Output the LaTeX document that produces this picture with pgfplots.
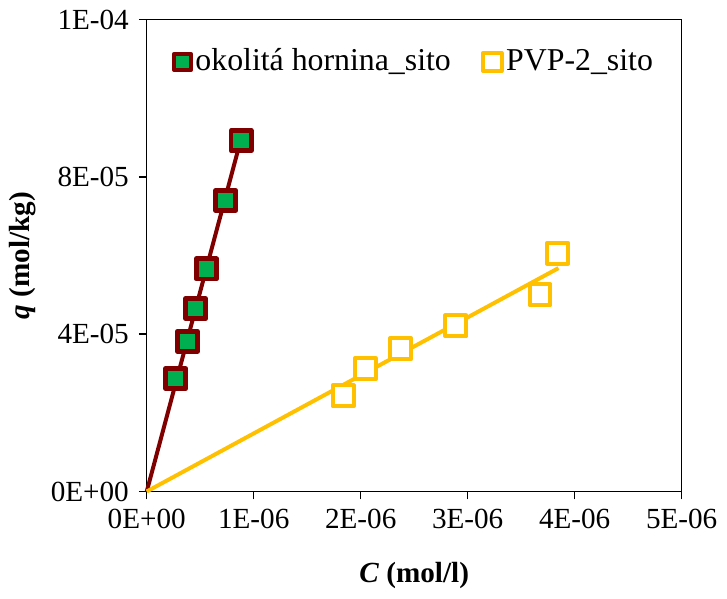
\documentclass[border=0pt]{standalone}
\usepackage{pgfplots}
\pgfplotsset{compat=1.18}
\usepackage{fontspec}
\setmainfont{Liberation Serif}

\definecolor{maroon}{RGB}{128,0,0}
\definecolor{xlgreen}{RGB}{0,176,80}
\definecolor{xlyellow}{RGB}{255,192,0}

\begin{document}
\fontsize{22}{26}\selectfont
\begin{tikzpicture}
\begin{axis}[
    scale only axis,
    width=403.5pt,
    height=356pt,
    xmin=0, xmax=5e-6,
    ymin=0, ymax=1.2e-4,
    scaled ticks=false,
    xtick={0,1e-6,2e-6,3e-6,4e-6,5e-6},
    xticklabels={0E+00,1E-06,2E-06,3E-06,4E-06,5E-06},
    ytick={0,4e-5,8e-5,1.2e-4},
    yticklabels={0E+00,4E-05,8E-05,1E-04},
    tick align=outside,
    xtick pos=left,
    ytick pos=left,
    major tick length=6pt,
    tick style={black, line width=1.1pt},
    axis line style={line width=1.1pt},
    font=\fontsize{22}{26}\selectfont,
    xlabel={\textbf{\textit{C} (mol/l)}},
    ylabel={\textbf{\textit{q} (mol/kg)}},
    xlabel style={yshift=-10pt},
    ylabel style={yshift=-4pt},
    legend style={at={(0.04,0.95)}, anchor=north west, draw=none, fill=none,
        font=\fontsize{24}{28}\selectfont, column sep=1pt,
        nodes={inner xsep=1pt},
        /tikz/every even column/.append style={column sep=22pt}},
    legend columns=2,
    legend cell align=left,
    clip=false,
]
\addplot[only marks, mark=square*, mark size=7.6pt,
    mark options={draw=maroon, fill=xlgreen, line width=3.5pt, line join=round},
    legend image code/.code={\draw[maroon, fill=xlgreen, line width=3pt, line join=round]
        (-6.2pt,-6.2pt) rectangle (6.2pt,6.2pt);}]
    coordinates {
    (0.271e-6,2.87e-5) (0.380e-6,3.82e-5) (0.457e-6,4.65e-5)
    (0.558e-6,5.66e-5) (0.738e-6,7.40e-5) (0.883e-6,8.92e-5)
};
\addlegendentry{okolitá hornina\_sito}
\addplot[only marks, mark=square*, mark size=7.9pt,
    mark options={draw=xlyellow, fill=white, line width=3pt, line join=round},
    legend image code/.code={\draw[xlyellow, fill=white, line width=3pt, line join=round]
        (-6.9pt,-6.9pt) rectangle (6.9pt,6.9pt);}]
    coordinates {
    (1.836e-6,2.43e-5) (2.043e-6,3.12e-5) (2.373e-6,3.63e-5)
    (2.889e-6,4.21e-5) (3.676e-6,5.00e-5) (3.840e-6,6.06e-5)
};
\addlegendentry{PVP-2\_sito}
% linear trend lines through the origin
\addplot[forget plot, maroon, line width=3pt] coordinates {(0,0) (0.883e-6,8.98e-5)};
\addplot[forget plot, xlyellow, line width=3pt] coordinates {(0,0) (3.849e-6,5.68e-5)};
\end{axis}
\end{tikzpicture}
\end{document}
